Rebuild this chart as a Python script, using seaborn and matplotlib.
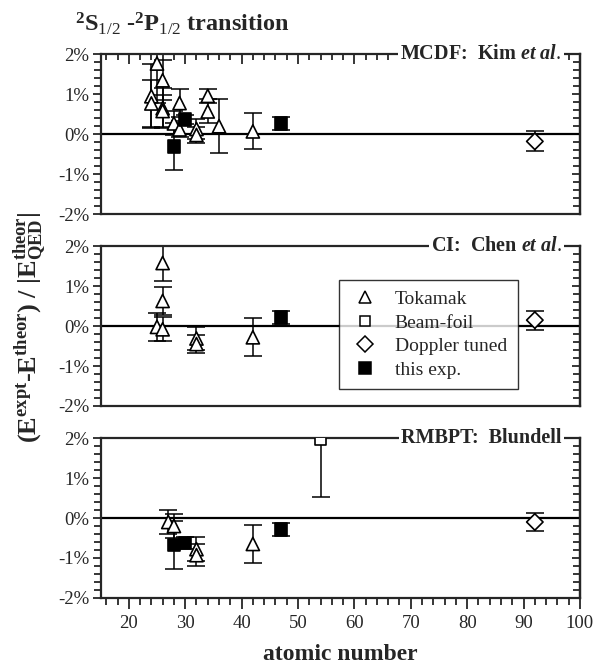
import matplotlib
matplotlib.use("Agg")
import matplotlib.pyplot as plt
from matplotlib.lines import Line2D
from matplotlib.ticker import MultipleLocator
import numpy as np
import pandas as pd
import seaborn as sns

# ---- data: deviation (%) of experiment from theory, per calculation ----
sources = ["Tokamak", "Beam-foil", "Doppler tuned", "this exp."]

# MCDF: Kim et al.
kim_z = [24, 24, 25, 26, 26, 26, 28, 29, 29, 32, 32, 34, 34, 36, 42, 28, 30, 47, 92]
kim_dev = [0.95, 0.77, 1.77, 1.35, 0.65, 0.58, 0.27, 0.78, 0.12, 0.13, -0.02, 0.96, 0.57, 0.20, 0.07,
           -0.31, 0.37, 0.27, -0.18]
kim_err = [0.8, 0.6, 1.0, 0.5, 0.5, 0.4, 0.3, 0.35, 0.2, 0.25, 0.2, 0.18, 0.3, 0.68, 0.45,
           0.58, 0.12, 0.17, 0.25]
kim_src = ["Tokamak"] * 15 + ["this exp."] * 3 + ["Doppler tuned"]

# CI: Chen et al.
chen_z = [26, 26, 25, 26, 32, 32, 42, 47, 92]
chen_dev = [1.58, 0.63, -0.02, -0.08, -0.31, -0.45, -0.28, 0.22, 0.15]
chen_err = [0.45, 0.35, 0.35, 0.3, 0.3, 0.22, 0.48, 0.17, 0.24]
chen_src = ["Tokamak"] * 7 + ["this exp.", "Doppler tuned"]

# RMBPT: Blundell
blu_z = [27, 28, 32, 32, 42, 28, 30, 47, 54, 92]
blu_dev = [-0.1, -0.2, -0.78, -0.93, -0.65, -0.68, -0.62, -0.29, 1.95, -0.1]
blu_err = [0.3, 0.3, 0.3, 0.27, 0.47, 0.6, 0.15, 0.17, 1.42, 0.23]
blu_src = ["Tokamak"] * 5 + ["this exp."] * 3 + ["Beam-foil", "Doppler tuned"]

panel_titles = [r"MCDF:  Kim $\mathit{et\ al.}$", r"CI:  Chen $\mathit{et\ al.}$", "RMBPT:  Blundell"]
ytick_vals = [-2, -1, 0, 1, 2]
ytick_labels = ["-2%", "-1%", "0%", "1%", "2%"]
xtick_vals = [20, 30, 40, 50, 60, 70, 80, 90, 100]

markers = {"Tokamak": "^", "Beam-foil": "s", "Doppler tuned": "D", "this exp.": "s"}
faces = {"Tokamak": "white", "Beam-foil": "white", "Doppler tuned": "white", "this exp.": "black"}
sizes = {"Tokamak": 90, "Beam-foil": 55, "Doppler tuned": 70, "this exp.": 80}
leg_sizes = {"Tokamak": 9, "Beam-foil": 7.5, "Doppler tuned": 8, "this exp.": 8}

sns.set_theme(style="ticks")
plt.rcParams["font.family"] = ["Liberation Serif", "DejaVu Serif"]
plt.rcParams["mathtext.fontset"] = "custom"
plt.rcParams["mathtext.rm"] = "Liberation Serif"
plt.rcParams["mathtext.bf"] = "Liberation Serif:bold"
plt.rcParams["mathtext.it"] = "Liberation Serif:italic:bold"

fig = plt.figure(figsize=(6.06, 6.71), dpi=100)
left, width, height = 0.166, 0.791, 0.238
bottoms = [0.681, 0.395, 0.109]

panels = [(kim_z, kim_dev, kim_err, kim_src), (chen_z, chen_dev, chen_err, chen_src),
          (blu_z, blu_dev, blu_err, blu_src)]

for i, (z, dev, err, src) in enumerate(panels):
    ax = fig.add_axes([left, bottoms[i], width, height])
    df = pd.DataFrame({"Z": z, "dev": dev, "err": err, "source": src})
    ax.axhline(0, color="black", lw=1.6, zorder=1)
    ax.errorbar(df["Z"], df["dev"], yerr=df["err"], fmt="none", ecolor="black",
                elinewidth=1.1, capsize=6.5, capthick=1.1, zorder=2)
    sns.scatterplot(data=df, x="Z", y="dev", hue="source", palette=faces, style="source",
                    markers=markers, size="source", sizes=sizes, edgecolor="black",
                    linewidth=1.2, legend=False, zorder=3, ax=ax)
    ax.set_xlim(15, 100)
    ax.set_ylim(-2, 2)
    ax.set_xlabel("")
    ax.set_ylabel("")
    ax.set_yticks(ytick_vals)
    ax.set_yticklabels(ytick_labels, fontsize=13.5)
    ax.yaxis.set_minor_locator(MultipleLocator(0.2))
    ax.set_xticks(xtick_vals)
    ax.xaxis.set_minor_locator(MultipleLocator(2))
    for sp in ax.spines.values():
        sp.set_visible(True)
        sp.set_linewidth(1.6)
    # left ticks point outwards, right ticks inwards
    ax.tick_params(axis="y", which="both", left=True, right=False, direction="out", width=1.3, pad=2)
    ax.tick_params(axis="y", which="major", length=6)
    ax.tick_params(axis="y", which="minor", length=5)
    sec = ax.secondary_yaxis("right")
    sec.set_yticks(ytick_vals)
    sec.yaxis.set_minor_locator(MultipleLocator(0.2))
    sec.tick_params(which="both", direction="in", labelright=False, width=1.3)
    sec.tick_params(which="major", length=6)
    sec.tick_params(which="minor", length=5)
    sec.spines["right"].set_linewidth(1.6)
    if i == 0:
        ax.tick_params(axis="x", which="both", top=True, bottom=False, labelbottom=False,
                       direction="in", width=1.3)
        ax.tick_params(axis="x", which="major", length=7)
        ax.tick_params(axis="x", which="minor", length=4)
    elif i == 1:
        ax.tick_params(axis="x", which="both", top=False, bottom=False, labelbottom=False)
    else:
        ax.tick_params(axis="x", which="both", bottom=True, direction="out", width=1.3,
                       labelsize=13.5, pad=4)
        ax.tick_params(axis="x", which="major", length=8)
        ax.tick_params(axis="x", which="minor", length=5)
        ax.set_xlabel("atomic number", fontsize=17, fontweight="bold", labelpad=9)
    ax.text(0.962, 1.0, panel_titles[i], transform=ax.transAxes, ha="right", va="center",
            fontsize=14.5, fontweight="bold", clip_on=False, zorder=5,
            bbox=dict(fc="white", ec="none", pad=1.5))
    if i == 1:
        handles = [Line2D([], [], ls="none", marker=markers[s], markerfacecolor=faces[s],
                          markeredgecolor="black", markeredgewidth=1.1, markersize=leg_sizes[s])
                   for s in sources]
        leg = ax.legend(handles, sources, loc="upper left", bbox_to_anchor=(0.478, 0.85),
                        fontsize=14, frameon=True, fancybox=False, edgecolor="black",
                        handlelength=1.5, handletextpad=0.8, borderpad=0.55, labelspacing=0.3)
        leg.get_frame().set_linewidth(1.0)
        leg.set_zorder(6)

fig.text(0.124, 0.953, r"$^{\mathbf{2}}\mathbf{S}_{\mathit{1/2}}$ -$^{\mathbf{2}}\mathbf{P}_{\mathit{1/2}}$ transition",
         fontsize=17.5, fontweight="bold", ha="left", va="baseline")
fig.text(0.05, 0.513, r"($\mathbf{E^{expt}}$-$\mathbf{E^{theor}}$) / |$\mathbf{E^{theor}_{QED}}$|",
         rotation=90, fontsize=19, fontweight="bold", ha="center", va="center")

fig.savefig("out.png", dpi=100)
